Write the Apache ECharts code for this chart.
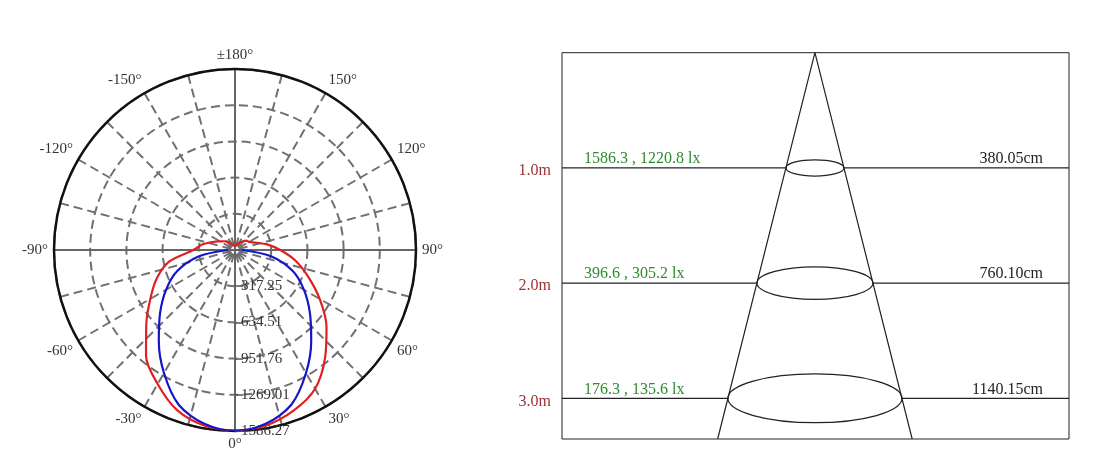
<!DOCTYPE html>
<html><head><meta charset="utf-8">
<script src="https://cdn.jsdelivr.net/npm/echarts@6/dist/echarts.min.js"></script>
<style>html,body{margin:0;padding:0;background:#fff}#c{width:1101px;height:462px}</style>
</head><body><div id="c"></div>
<script>
// ---- polar (luminous intensity, cd) ----
const radiusMax = 1586.2675;
const radiusStep = 317.2535;
const radiusLabels = ['317.25', '634.51', '951.76', '1269.01', '1586.27'];
// angles in degrees, 0 = straight down, negative = left side
const redAngles = [-180,-170,-160,-150,-140,-130,-120,-110,-100,-90,-80,-70,-60,-50,-40,-30,-20,-10,0,10,20,30,40,50,60,70,80,90,100,110,120,130,140,150,160,170,180];
const redValues = [32,40,48,63,95,119,151,206,286,365,587,730,857,1015,1213,1356,1491,1562,1586,1562,1499,1404,1229,1047,857,682,539,397,286,190,143,127,95,71,48,40,32];
const blueAngles = [-90,-80,-70,-60,-50,-40,-30,-20,-10,0,10,20,30,40,50,60,70,80,90];
const blueValues = [63,325,539,698,857,1039,1245,1443,1547,1586,1547,1443,1245,1039,857,698,539,325,63];

// ---- beam diagram ----
const distances = [1.0, 2.0, 3.0];
const distanceLabels = ['1.0m', '2.0m', '3.0m'];
const illuminanceLabels = ['1586.3 , 1220.8 lx', '396.6 , 305.2 lx', '176.3 , 135.6 lx'];
const diameterLabels = ['380.05cm', '760.10cm', '1140.15cm'];
const depthMax = 3.353;

const serif = "'Liberation Serif','Times New Roman',serif";
const toPolar = (angles, values) => angles.map((a, i) => [values[i], a < 0 ? a + 360 : a]);
const gridDash = [9, 5];

const chart = echarts.init(document.getElementById('c'));
chart.setOption({
  animation: false,
  backgroundColor: '#fff',
  polar: [
    { center: [235, 250], radius: 181 },
    { center: [235, 250], radius: 181 }
  ],
  angleAxis: [
    {
      polarIndex: 0, type: 'value', min: 0, max: 360, interval: 15,
      startAngle: 270, clockwise: false,
      axisLine: { show: true, lineStyle: { color: '#111', width: 2.5 } },
      axisTick: { show: false },
      splitLine: { show: true, lineStyle: { color: '#707070', width: 2, type: gridDash } },
      axisLabel: {
        margin: 6, color: '#333', fontSize: 15, fontFamily: serif,
        formatter: v => {
          if (v % 30 !== 0 || v === 360) return '';
          if (v === 180) return '±180°';
          return (v > 180 ? v - 360 : v) + '°';
        }
      }
    },
    {
      polarIndex: 1, type: 'value', min: 0, max: 360, interval: 90,
      startAngle: 270, clockwise: false,
      axisLine: { show: false }, axisTick: { show: false }, axisLabel: { show: false },
      splitLine: { show: true, lineStyle: { color: '#666', width: 2, type: 'solid' } }
    }
  ],
  radiusAxis: [
    {
      polarIndex: 0, type: 'value', min: 0, max: radiusMax, interval: radiusStep,
      axisLine: { show: false },
      axisTick: { show: true, length: 8, lineStyle: { color: '#555', width: 1.5 } },
      splitLine: { show: true, lineStyle: { color: '#707070', width: 2, type: gridDash } },
      axisLabel: {
        color: '#333', fontSize: 15, fontFamily: serif, margin: 6,
        formatter: v => { const i = Math.round(v / radiusStep); return i > 0 ? radiusLabels[i - 1] : ''; }
      }
    },
    {
      polarIndex: 1, type: 'value', min: 0, max: radiusMax,
      axisLine: { show: false }, axisTick: { show: false }, axisLabel: { show: false }, splitLine: { show: false }
    }
  ],
  grid: {
    left: 562, top: 52.7, width: 507, height: 386.3,
    show: true, borderColor: '#222', borderWidth: 1
  },
  xAxis: { type: 'value', min: -8.72, max: 8.76, show: false },
  yAxis: { type: 'value', min: 0, max: depthMax, inverse: true, show: false },
  series: [
    {
      type: 'line', coordinateSystem: 'polar', polarIndex: 0,
      data: toPolar(redAngles, redValues), symbol: 'none', smooth: 0.3,
      lineStyle: { color: '#e02020', width: 2.2 }, z: 5
    },
    {
      type: 'line', coordinateSystem: 'polar', polarIndex: 0,
      data: toPolar(blueAngles, blueValues), symbol: 'none', smooth: 0.3,
      lineStyle: { color: '#1515c8', width: 2.2 }, z: 6
    },
    {
      type: 'line', xAxisIndex: 0, yAxisIndex: 0,
      data: [[-depthMax, depthMax], [0, 0], [depthMax, depthMax]],
      symbol: 'none', lineStyle: { color: '#222', width: 1.2 }
    },
    {
      type: 'custom', xAxisIndex: 0, yAxisIndex: 0,
      data: distances.map((d, i) => [0, d, i]),
      encode: { x: 0, y: 1 },
      renderItem: (params, api) => {
        const d = api.value(1);
        const i = api.value(2);
        const c = api.coord([0, d]);
        const e = api.coord([d, d]);
        const hw = e[0] - c[0];
        const hh = hw * 0.28;
        const gl = params.coordSys.x, gr = gl + params.coordSys.width;
        const lineStyle = { stroke: '#222', lineWidth: 1.2 };
        const font = '16px ' + serif;
        return {
          type: 'group',
          children: [
            { type: 'line', shape: { x1: gl, y1: c[1], x2: c[0] - hw, y2: c[1] }, style: lineStyle },
            { type: 'line', shape: { x1: c[0] + hw, y1: c[1], x2: gr, y2: c[1] }, style: lineStyle },
            { type: 'ellipse', shape: { cx: c[0], cy: c[1], rx: hw, ry: hh }, style: { fill: 'none', stroke: '#222', lineWidth: 1.2 } },
            { type: 'text', x: gl - 11, y: c[1] + 3, style: { text: distanceLabels[i], fill: '#9b3232', font: font, align: 'right', verticalAlign: 'middle' } },
            { type: 'text', x: gl + 22, y: c[1] - 9, style: { text: illuminanceLabels[i], fill: '#2e8b2e', font: font, align: 'left', verticalAlign: 'middle' } },
            { type: 'text', x: gr - 26, y: c[1] - 9, style: { text: diameterLabels[i], fill: '#222', font: font, align: 'right', verticalAlign: 'middle' } }
          ]
        };
      }
    }
  ]
});
</script>
</body></html>
